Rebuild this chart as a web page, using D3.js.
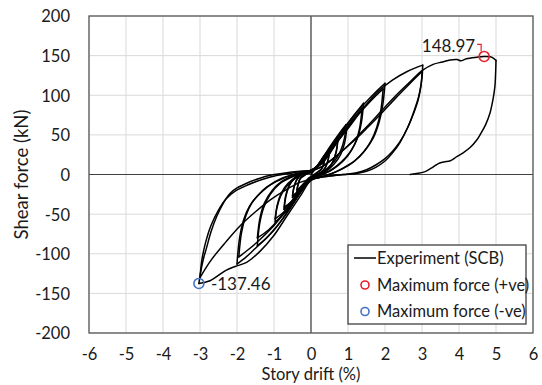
<!DOCTYPE html>
<html><head><meta charset="utf-8">
<script src="https://cdn.jsdelivr.net/npm/d3@7/dist/d3.min.js"></script>
<style>
html,body{margin:0;padding:0;background:#fff;}
svg{display:block;font-family:Lato,"Open Sans",sans-serif;}
</style></head>
<body><svg id="c" width="542" height="385"></svg>
<script>
// ---- data: story drift (%) , shear force (kN) ----
const xTicks = [-6,-5,-4,-3,-2,-1,0,1,2,3,4,5,6];
const yTicks = [-200,-150,-100,-50,0,50,100,150,200];

const cycle0375 = [[0,0],[0.1,6],[0.2,12],[0.3,18],[0.37,22],[0.34,14],[0.28,7],[0.18,3],[0.05,-1],[-0.05,-4],[-0.15,-9],[-0.25,-14],[-0.35,-19],[-0.38,-21],[-0.35,-13],[-0.3,-6],[-0.2,-2],[-0.1,1],[0,3],
  [0.1,7],[0.2,12],[0.3,17],[0.37,20],[0.34,12],[0.27,6],[0.15,2],[0.05,-2],[-0.05,-5],[-0.2,-12],[-0.3,-17],[-0.38,-19],[-0.34,-11],[-0.28,-4],[-0.15,0],[0,3]];
const cycle0500 = [[0.1,7],[0.2,13],[0.3,20],[0.4,26],[0.5,31],[0.47,20],[0.4,10],[0.3,4],[0.15,0],[0,-4],[-0.1,-8],[-0.2,-14],[-0.3,-20],[-0.4,-25],[-0.5,-29],[-0.47,-18],[-0.4,-8],[-0.3,-2],[-0.15,2],[0,4],
  [0.15,9],[0.3,18],[0.4,24],[0.5,29],[0.46,18],[0.38,8],[0.25,2],[0.1,-1],[0,-4],[-0.15,-10],[-0.3,-18],[-0.4,-23],[-0.5,-27],[-0.46,-16],[-0.38,-6],[-0.25,0],[-0.1,3],[0,4]];
const cycle0750 = [[0.15,10],[0.3,20],[0.45,30],[0.6,39],[0.73,46],[0.69,30],[0.6,17],[0.47,8],[0.3,2],[0.12,-2],[0,-5],[-0.15,-12],[-0.3,-21],[-0.45,-30],[-0.6,-38],[-0.73,-44],[-0.69,-28],[-0.6,-15],[-0.47,-6],[-0.3,0],[-0.12,3],[0,5],
  [0.2,11],[0.4,24],[0.55,34],[0.72,42],[0.67,27],[0.58,15],[0.43,5],[0.25,0],[0.1,-3],[0,-5],[-0.2,-14],[-0.4,-26],[-0.55,-35],[-0.72,-41],[-0.67,-26],[-0.58,-13],[-0.43,-4],[-0.25,1],[0,4]];
const cycle1000 = [[0.2,12],[0.4,27],[0.6,41],[0.8,54],[0.95,63],[0.9,45],[0.8,30],[0.65,18],[0.45,8],[0.25,1],[0,-6],[-0.2,-16],[-0.4,-30],[-0.6,-43],[-0.8,-53],[-0.97,-60],[-0.92,-42],[-0.82,-27],[-0.66,-15],[-0.45,-6],[-0.25,0],[0,5],
  [0.25,13],[0.5,31],[0.75,48],[0.97,59],[0.91,40],[0.8,25],[0.62,13],[0.4,4],[0.2,-1],[0,-6],[-0.25,-18],[-0.5,-35],[-0.75,-48],[-0.97,-56],[-0.91,-38],[-0.8,-23],[-0.62,-11],[-0.4,-3],[-0.2,1],[0,5]];
const cycle1500 = [[0.25,14],[0.5,32],[0.75,50],[1.0,65],[1.25,80],[1.42,90],[1.36,65],[1.25,45],[1.05,28],[0.8,15],[0.55,6],[0.3,0],[0,-7],[-0.25,-20],[-0.5,-38],[-0.75,-55],[-1.0,-70],[-1.25,-82],[-1.45,-90],[-1.39,-63],[-1.28,-42],[-1.1,-25],[-0.85,-12],[-0.55,-4],[-0.25,1],[0,5],
  [0.3,14],[0.6,34],[0.9,55],[1.15,71],[1.38,84],[1.32,60],[1.2,40],[1.0,24],[0.75,12],[0.5,4],[0.25,-1],[0,-7],[-0.3,-20],[-0.6,-40],[-0.9,-58],[-1.15,-70],[-1.45,-80],[-1.38,-55],[-1.26,-36],[-1.05,-20],[-0.8,-9],[-0.5,-2],[-0.25,2],[0,5]];
const cycle2000 = [[0.3,16],[0.6,37],[0.9,58],[1.2,77],[1.5,92],[1.75,104],[2.0,115],[1.94,88],[1.84,66],[1.68,46],[1.45,30],[1.2,18],[0.9,9],[0.6,2],[0.3,-3],[0,-7],[-0.3,-24],[-0.6,-45],[-0.9,-64],[-1.2,-80],[-1.5,-93],[-1.75,-104],[-2.0,-113],[-1.93,-80],[-1.82,-57],[-1.66,-40],[-1.45,-27],[-1.2,-16],[-0.9,-8],[-0.55,-1],[-0.25,3],[0,5],
  [0.35,17],[0.7,40],[1.05,63],[1.4,82],[1.7,97],[1.95,108],[1.89,82],[1.78,60],[1.62,42],[1.4,27],[1.15,16],[0.85,7],[0.55,1],[0.25,-3],[0,-7],[-0.35,-25],[-0.7,-47],[-1.05,-67],[-1.4,-83],[-1.7,-95],[-1.95,-104],[-1.88,-74],[-1.76,-52],[-1.6,-36],[-1.38,-24],[-1.1,-13],[-0.8,-5],[-0.45,0],[-0.2,3],[0,5]];
const cycle3000 = [[0.3,16],[0.6,35],[1.0,58],[1.4,83],[1.8,104],[2.2,119],[2.6,130],[3.02,138],[3.0,122],[2.92,100],[2.8,82],[2.62,60],[2.4,40],[2.2,27],[2.0,17],[1.75,9],[1.5,4],[1.2,1],[0.87,0],[0.5,-2],[0.2,-4],[0,-7],[-0.3,-28],[-0.66,-53],[-1.02,-78],[-1.38,-97],[-1.74,-111],[-2.05,-116],[-2.3,-121],[-2.73,-134],[-3.03,-137.46],[-2.97,-120],[-2.9,-105],[-2.82,-92],[-2.7,-72],[-2.55,-53],[-2.38,-37],[-2.19,-24],[-2.0,-17],[-1.74,-11],[-1.4,-5],[-1.1,-1],[-0.7,2],[-0.3,4],[0,5],
  [0.3,10],[0.7,24],[1.1,40],[1.5,58],[1.9,77],[2.3,97],[2.7,116],[3.0,130],[2.98,115],[2.9,95],[2.78,78],[2.6,58],[2.4,41],[2.2,29],[2.0,20],[1.75,12],[1.5,6],[1.2,2],[0.9,0],[0.5,-2],[0.2,-4],[0,-6],[-0.3,-10],[-0.7,-20],[-1.1,-32],[-1.5,-47],[-1.9,-64],[-2.3,-85],[-2.7,-108],[-3.0,-130],[-2.95,-108],[-2.85,-86],[-2.7,-64],[-2.5,-45],[-2.3,-31],[-2.05,-21],[-1.7,-13],[-1.3,-6],[-0.9,-1],[-0.5,2],[-0.2,4],[0,5]];
const finalPush = [[0.3,10],[0.7,24],[1.1,41],[1.5,60],[1.9,80],[2.3,100],[2.7,118],[3.0,131],[3.3,139],[3.55,142],[3.76,144.5],[3.95,145],[4.05,143.5],[4.2,146],[4.48,148],[4.68,148.97],[4.85,148.5],[4.95,146],[5.0,144],
  [4.99,128],[4.97,111],[4.92,95],[4.84,78],[4.72,63],[4.58,51],[4.48,43.5],[4.3,34],[4.1,27],[3.94,22.5],[3.75,17],[3.62,16],[3.48,14.5],[3.38,12],[3.25,8],[3.1,4],[2.9,1.5],[2.68,0]];

const maxPos = [4.68, 148.97];
const maxNeg = [-3.03, -137.46];
const legendLabels = ["Experiment (SCB)", "Maximum force (+ve)", "Maximum force (-ve)"];
const xTitle = "Story drift (%)";
const yTitle = "Shear force (kN)";

// ---- layout ----
const svg = d3.select("#c");
const L = 89, R = 533, T = 16, B = 333;
const x = d3.scaleLinear().domain([-6, 6]).range([L, R]);
const y = d3.scaleLinear().domain([-200, 200]).range([B, T]);

// grid
const g = svg.append("g");
g.selectAll(".gx").data(xTicks).join("line")
  .attr("x1", d => x(d)).attr("x2", d => x(d)).attr("y1", T).attr("y2", B)
  .attr("stroke", "#d9d9d9").attr("stroke-width", 1);
g.selectAll(".gy").data(yTicks).join("line")
  .attr("y1", d => y(d)).attr("y2", d => y(d)).attr("x1", L).attr("x2", R)
  .attr("stroke", "#d9d9d9").attr("stroke-width", 1);

// zero axes
svg.append("line").attr("x1", x(0)).attr("x2", x(0)).attr("y1", T).attr("y2", B).attr("stroke", "#404040").attr("stroke-width", 1.2);
svg.append("line").attr("x1", L).attr("x2", R).attr("y1", y(0)).attr("y2", y(0)).attr("stroke", "#404040").attr("stroke-width", 1.2);

// tick labels via axes
const xAxis = svg.append("g").attr("transform", `translate(0,${B})`)
  .call(d3.axisBottom(x).tickValues(xTicks).tickSize(0).tickPadding(15).tickFormat(d => String(d)));
const yAxis = svg.append("g").attr("transform", `translate(${L},0)`)
  .call(d3.axisLeft(y).tickValues(yTicks).tickSize(0).tickPadding(19).tickFormat(d => String(d)));
[xAxis, yAxis].forEach(a => {
  a.select(".domain").remove();
  a.selectAll("text").attr("font-family", "Lato, sans-serif").attr("font-size", 16.5).attr("fill", "#1a1a1a");
});
yAxis.selectAll("text").attr("dy", "0.36em");

// data path, split at drift reversals to keep sharp tips
const all = [].concat(cycle0375, cycle0500, cycle0750, cycle1000, cycle1500, cycle2000, cycle3000, finalPush);
const segs = [];
let cur = [all[0]];
let dir = 0;
for (let i = 1; i < all.length; i++) {
  const d = Math.sign(all[i][0] - all[i-1][0]);
  if (dir !== 0 && d !== 0 && d !== dir) { segs.push(cur); cur = [all[i-1]]; }
  if (d !== 0) dir = d;
  cur.push(all[i]);
}
segs.push(cur);
const line = d3.line().x(d => x(d[0])).y(d => y(d[1])).curve(d3.curveCatmullRom.alpha(0.5));
svg.append("g").selectAll("path").data(segs).join("path")
  .attr("d", line).attr("fill", "none").attr("stroke", "#000").attr("stroke-width", 1.5)
  .attr("stroke-linejoin", "round").attr("stroke-linecap", "round");

// frame
svg.append("rect").attr("x", L).attr("y", T).attr("width", R - L).attr("height", B - T)
  .attr("fill", "none").attr("stroke", "#595959").attr("stroke-width", 1.3);

// markers
svg.append("circle").attr("cx", x(maxPos[0])).attr("cy", y(maxPos[1])).attr("r", 5)
  .attr("fill", "none").attr("stroke", "#e8202a").attr("stroke-width", 1.6);
svg.append("circle").attr("cx", x(maxNeg[0])).attr("cy", y(maxNeg[1])).attr("r", 5)
  .attr("fill", "none").attr("stroke", "#4472c4").attr("stroke-width", 1.6);

// data labels
svg.append("text").attr("x", x(maxPos[0]) - 9).attr("y", y(maxPos[1]) - 4)
  .attr("text-anchor", "end").attr("font-size", 17).attr("fill", "#1a1a1a").text(maxPos[1].toFixed(2));
svg.append("path")
  .attr("d", `M${x(maxPos[0]) - 7},${y(maxPos[1]) - 12} H${x(maxPos[0]) - 3} V${y(maxPos[1]) - 5}`)
  .attr("fill", "none").attr("stroke", "#e8202a").attr("stroke-width", 1.2);
svg.append("text").attr("x", x(maxNeg[0]) + 12).attr("y", y(maxNeg[1]) + 7)
  .attr("text-anchor", "start").attr("font-size", 17).attr("fill", "#1a1a1a").text(maxNeg[1].toFixed(2));

// legend
const lg = svg.append("g");
lg.append("rect").attr("x", 348).attr("y", 245).attr("width", 178).attr("height", 79)
  .attr("fill", "#fff").attr("stroke", "#404040").attr("stroke-width", 1.3);
lg.append("line").attr("x1", 354).attr("x2", 376).attr("y1", 258).attr("y2", 258).attr("stroke", "#000").attr("stroke-width", 1.5);
lg.append("circle").attr("cx", 365).attr("cy", 285).attr("r", 4).attr("fill", "none").attr("stroke", "#e8202a").attr("stroke-width", 1.6);
lg.append("circle").attr("cx", 365).attr("cy", 311.5).attr("r", 4).attr("fill", "none").attr("stroke", "#4472c4").attr("stroke-width", 1.6);
lg.selectAll("text").data(legendLabels).join("text")
  .attr("x", 377).attr("y", (d, i) => [258, 285, 311.5][i]).attr("dy", "0.36em")
  .attr("font-size", 16.5).attr("fill", "#1a1a1a").text(d => d);

// axis titles
svg.append("text").attr("x", x(0)).attr("y", 380).attr("text-anchor", "middle")
  .attr("font-size", 16.5).attr("fill", "#1a1a1a").text(xTitle);
svg.append("text").attr("transform", `translate(28,${(T + B) / 2}) rotate(-90)`).attr("text-anchor", "middle")
  .attr("font-size", 18.5).attr("fill", "#1a1a1a").text(yTitle);
</script>
</body></html>
